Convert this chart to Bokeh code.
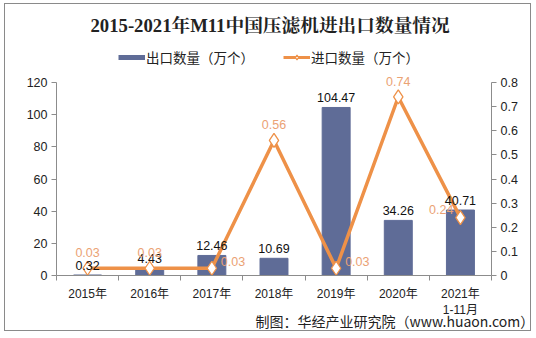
from bokeh.plotting import figure
from bokeh.models import (Range1d, LinearAxis, Label, Legend, LegendItem, ColumnDataSource,
                          FixedTicker, Title)
from bokeh.core.properties import value
from bokeh.embed import file_html
from bokeh.resources import INLINE

years = ["2015年", "2016年", "2017年", "2018年", "2019年", "2020年", "2021年\n1-11月"]
export_qty = [0.32, 4.43, 12.46, 10.69, 104.47, 34.26, 40.71]
import_qty = [0.03, 0.03, 0.03, 0.56, 0.03, 0.74, 0.24]
import_label_side = ["above", "above", "right", "above", "right", "above", "left"]
left_ticks = [0, 20, 40, 60, 80, 100, 120]
right_ticks = [0, 0.1, 0.2, 0.3, 0.4, 0.5, 0.6, 0.7, 0.8]

# page geometry (canvas placed at page offset OX, OY by margin + border)
OX, OY = 5, 4
W, H = 527, 328
PL, PR, PT, PB = 56, 491, 5, 275          # frame in page pixels
AX_TOP = 82                                # page y of 120 / 0.8
fh = PB - PT
scale = (PB - AX_TOP)
ly_top = left_ticks[-1] * fh / scale
ry_top = right_ticks[-1] * fh / scale

BAR = "#5f6c97"
LINE = "#ee9148"
LBL_OR = "#eba274"
SANS = "'Liberation Sans', 'Noto Sans CJK SC'"

p = figure(width=W, height=H, output_backend="svg", toolbar_location=None,
           x_range=Range1d(-0.5, len(years) - 0.5), y_range=Range1d(0, ly_top),
           min_border_left=PL - OX, min_border_right=OX + W - PR,
           min_border_top=PT - OY, min_border_bottom=OY + H - PB,
           margin=(OY - 1, 0, 0, OX - 1),
           styles={"border": "1px solid #8a8a8a"})
p.title.visible = False
p.outline_line_color = None
p.xgrid.visible = False
p.ygrid.visible = False
p.background_fill_color = "white"
p.border_fill_color = "white"

p.extra_y_ranges = {"r": Range1d(0, ry_top)}

xs = list(range(len(years)))
src = ColumnDataSource(dict(x=xs, exp=export_qty, imp=import_qty,
                            exp_t=[f"{v:.2f}" for v in export_qty]))

bars = p.vbar(x="x", top="exp", width=0.45, source=src, color=BAR)
line = p.line(x="x", y="imp", source=src, color=LINE, line_width=3.5, y_range_name="r")
marks = p.scatter(x="x", y="imp", source=src, marker="diamond", size=14, fill_color="white",
                  line_color=LINE, line_width=1.3, y_range_name="r")
# legend swatches (kept outside the visible ranges, legend only)
off_x, off_y = [-50, -49], [-50, -50]
bar_swatch = p.line(x=off_x, y=off_y, line_color=BAR, line_width=5)
line_swatch = p.line(x=off_x, y=off_y, line_color=LINE, line_width=3)
mark_swatch = p.scatter(x=off_x, y=off_y, marker="diamond", size=10, fill_color="white",
                        line_color=LINE, line_width=1.2)

# bar labels
p.text(x="x", y="exp", text="exp_t", source=src, text_align="center", text_baseline="bottom",
       y_offset=-5, text_font=value("Liberation Sans"), text_font_size="12.5px", text_color="#111111")

# line labels
offs = {"above": (0, 11, "center"), "right": (9, 2, "left"), "left": (-7, 4, "right")}
for i, side in enumerate(import_label_side):
    dx, dy, al = offs[side]
    p.add_layout(Label(x=xs[i], y=import_qty[i], y_range_name="r", text=f"{import_qty[i]:.2f}",
                       x_offset=dx, y_offset=dy, text_align=al, text_baseline="bottom",
                       text_font="Liberation Sans", text_font_size="12.5px", text_color=LBL_OR))

# axes
ax_col = "#8c8c8c"
p.xaxis.ticker = FixedTicker(ticks=xs, minor_ticks=[i - 0.5 for i in range(len(years) + 1)])
p.xaxis.major_label_overrides = {i: t for i, t in enumerate(years)}
p.xaxis.major_tick_line_color = None
p.xaxis.major_tick_out = 0
p.xaxis.major_tick_in = 0
p.xaxis.minor_tick_line_color = ax_col
p.xaxis.minor_tick_in = 0
p.xaxis.minor_tick_out = 5
p.xaxis.axis_line_color = ax_col
p.xaxis.major_label_text_font = SANS
p.xaxis.major_label_text_font_size = "12px"
p.xaxis.major_label_text_color = "#222222"
p.xaxis.major_label_standoff = 6

p.yaxis.ticker = FixedTicker(ticks=left_ticks)
p.yaxis.bounds = (left_ticks[0], left_ticks[-1])
ax2 = LinearAxis(y_range_name="r", ticker=FixedTicker(ticks=right_ticks),
                 bounds=(right_ticks[0], right_ticks[-1]))
p.add_layout(ax2, "right")
for ax in (p.yaxis[0], ax2):
    ax.axis_line_color = ax_col
    ax.major_tick_line_color = ax_col
    ax.major_tick_in = 0
    ax.major_tick_out = 5
    ax.minor_tick_line_color = None
    ax.major_label_text_font = SANS
    ax.major_label_text_font_size = "12.5px"
    ax.major_label_text_color = "#222222"
    ax.major_label_standoff = 4
ax2.major_label_overrides = {0: "0"}

# legend (inside extended frame, above the plotting area)
legend = Legend(items=[LegendItem(label="出口数量（万个）", renderers=[bar_swatch]),
                       LegendItem(label="进口数量（万个）", renderers=[line_swatch, mark_swatch])],
                orientation="horizontal", location=(118 - PL, PB - 59 - 8),
                glyph_width=27, glyph_height=12, label_height=16, label_standoff=1, spacing=29,
                padding=0, margin=0, border_line_color=None, background_fill_alpha=0,
                label_text_font="Noto Sans CJK SC", label_text_font_size="13.5px",
                label_text_color="#222222")
p.add_layout(legend)

# title
p.add_layout(Label(x=90 - PL, y=PB - 25, x_units="screen", y_units="screen",
                   text="2015-2021年M11中国压滤机进出口数量情况", text_align="left",
                   text_baseline="middle", text_font="'Liberation Serif', 'Noto Serif CJK SC', 'Noto Sans CJK SC'",
                   text_font_size="18.7px", text_font_style="bold", text_color="#222222"))

# source
p.add_layout(Title(text="制图：华经产业研究院（www.huaon.com）", align="left", offset=255 - PL,
                   vertical_align="top",
                   text_font="Noto Sans CJK SC", text_font_size="14px", text_font_style="normal",
                   text_color="#222222", standoff=-20), "below")

open("out.html", "w").write(file_html(p, INLINE))
